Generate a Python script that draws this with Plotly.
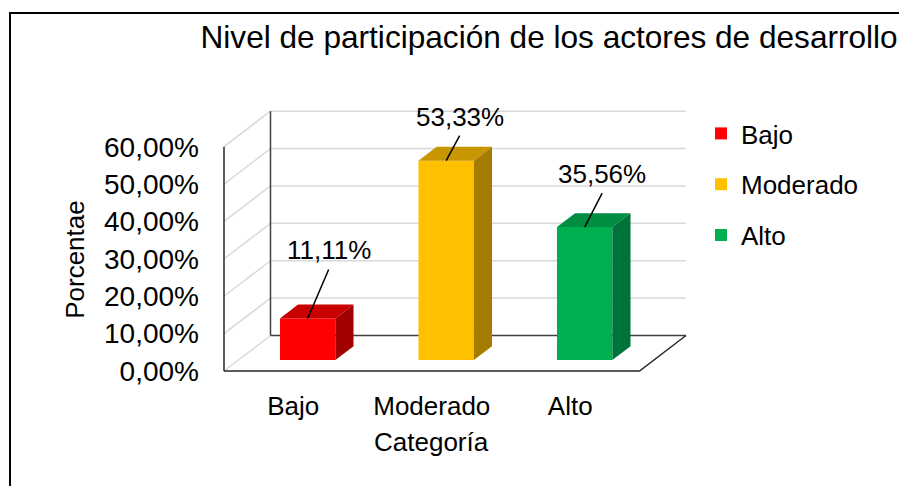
import plotly.graph_objects as go

# ---------------- data ----------------
CATEGORIES = ["Bajo", "Moderado", "Alto"]
VALUES = [11.11, 53.33, 35.56]
COLORS = ["#ff0000", "#ffc000", "#00b050"]
TOP_COLORS = ["#c80000", "#c89600", "#008f42"]
SIDE_COLORS = ["#a00000", "#a67c00", "#00733a"]
Y_TICKS = [0, 10, 20, 30, 40, 50, 60]
Y_TICK_LABELS = ["0,00%", "10,00%", "20,00%", "30,00%", "40,00%", "50,00%", "60,00%"]
TITLE = "Nivel de participación de los actores de desarrollo"
Y_TITLE = "Porcentae"
X_TITLE = "Categoría"

# ---------------- layout geometry (reference-window pixels) ----------------
PAGE_OFF = 8                      # default page margin around the plot div
W, H = 907 - PAGE_OFF, 486 - PAGE_OFF


def P(v):
    """reference window pixel -> figure pixel"""
    return v - PAGE_OFF


FRONT_LEFT, FRONT_RIGHT = P(224.0), P(639.5)     # front floor edge
FRONT_ZERO, FRONT_TOP = P(371.0), P(146.7)       # y pixel of 0 and of max tick
PLOT_L, PLOT_R, PLOT_T, PLOT_B = P(214), P(705), P(95), P(380)
DEPTH_PX = (46.5, 35.5)                          # back wall offset
BAR_DEPTH = (0.31, 0.70)                         # bar front/back depth fraction
BAR_WIDTH = 0.4
LEADER_PX = [(21, 49), (13.5, 25), (17.5, 34)]
LABEL_GAP_PX = 19
FONT = "Liberation Sans, Arial, sans-serif"

n = len(CATEGORIES)
PXU = (FRONT_RIGHT - FRONT_LEFT) / n
PYU = (FRONT_ZERO - FRONT_TOP) / Y_TICKS[-1]
x_range = [-0.5 - (FRONT_LEFT - PLOT_L) / PXU, -0.5 + (PLOT_R - FRONT_LEFT) / PXU]
y_range = [-(PLOT_B - FRONT_ZERO) / PYU, (FRONT_ZERO - PLOT_T) / PYU]
DX, DY = DEPTH_PX[0] / PXU, DEPTH_PX[1] / PYU
bx0, by0 = BAR_DEPTH[0] * DX, BAR_DEPTH[0] * DY
bdx, bdy = (BAR_DEPTH[1] - BAR_DEPTH[0]) * DX, (BAR_DEPTH[1] - BAR_DEPTH[0]) * DY
x_left, x_right = -0.5, n - 0.5
pw, ph = PLOT_R - PLOT_L, PLOT_B - PLOT_T


def px_to_paper(px, py):
    return (P(px) - PLOT_L) / pw, (PLOT_B - P(py)) / ph


fig = go.Figure()
for i, (c, v) in enumerate(zip(CATEGORIES, VALUES)):
    fig.add_trace(go.Bar(
        x=[i], y=[v], base=[by0], name=c, legendgroup=c,
        width=[BAR_WIDTH], offset=[-BAR_WIDTH / 2 + bx0],
        marker=dict(color=COLORS[i], line=dict(width=0)),
        hoverinfo="skip",
    ))

shapes = []
GRID = dict(color="#d9d9d9", width=1.5)
DARK = dict(color="#262626", width=1.5)
BACK_DARK = dict(color="#404040", width=1.5)
# back wall and side wall gridlines
for t in Y_TICKS:
    if t != Y_TICKS[0]:
        shapes.append(dict(type="line", xref="x", yref="y", layer="below",
                           x0=x_left + DX, x1=x_right + DX, y0=t + DY, y1=t + DY, line=GRID))
    shapes.append(dict(type="line", xref="x", yref="y", layer="below",
                       x0=x_left, x1=x_left + DX, y0=t, y1=t + DY, line=GRID))
# floor back edge
shapes.append(dict(type="line", xref="x", yref="y", layer="below",
                   x0=x_left + DX, x1=x_right + DX, y0=Y_TICKS[0] + DY, y1=Y_TICKS[0] + DY, line=BACK_DARK))
# back wall left vertical edge
shapes.append(dict(type="line", xref="x", yref="y", layer="below",
                   x0=x_left + DX, x1=x_left + DX, y0=Y_TICKS[0] + DY, y1=Y_TICKS[-1] + DY, line=BACK_DARK))
# front vertical axis
shapes.append(dict(type="line", xref="x", yref="y", layer="below",
                   x0=x_left, x1=x_left, y0=Y_TICKS[0], y1=Y_TICKS[-1], line=DARK))
# floor front and right edges
shapes.append(dict(type="path", xref="x", yref="y", layer="below",
                   path=f"M{x_left},{Y_TICKS[0]} L{x_right},{Y_TICKS[0]} L{x_right + DX},{Y_TICKS[0] + DY}",
                   line=DARK))

# bar top and side faces
for i, v in enumerate(VALUES):
    xl = i - BAR_WIDTH / 2 + bx0
    xr = i + BAR_WIDTH / 2 + bx0
    yb, yt = by0, by0 + v
    shapes.append(dict(type="path", xref="x", yref="y", layer="above", line=dict(width=0),
                       fillcolor=TOP_COLORS[i],
                       path=f"M{xl},{yt} L{xr},{yt} L{xr + bdx},{yt + bdy} L{xl + bdx},{yt + bdy} Z"))
    shapes.append(dict(type="path", xref="x", yref="y", layer="above", line=dict(width=0),
                       fillcolor=SIDE_COLORS[i],
                       path=f"M{xr},{yb} L{xr},{yt} L{xr + bdx},{yt + bdy} L{xr + bdx},{yb + bdy} Z"))

# leader lines and data labels
annotations = []
for i, v in enumerate(VALUES):
    xs, ys = i + bx0, by0 + v
    lx, ly = LEADER_PX[i]
    xe, ye = xs + lx / PXU, ys + ly / PYU
    shapes.append(dict(type="line", xref="x", yref="y", layer="above",
                       x0=xs, y0=ys, x1=xe, y1=ye, line=dict(color="#000000", width=1.5)))
    annotations.append(dict(x=xe, y=ye + LABEL_GAP_PX / PYU, xref="x", yref="y",
                            text=f"{v:.2f}".replace(".", ",") + "%", showarrow=False,
                            xanchor="center", yanchor="middle",
                            font=dict(family=FONT, size=26, color="#000000")))

# chart border (left and top edges visible)
bx_l, by_t = px_to_paper(10, 13)
bx_r, by_b = px_to_paper(907 + 20, 486 + 20)
shapes.append(dict(type="path", xref="paper", yref="paper", layer="above",
                   path=f"M{bx_l},{by_b} L{bx_l},{by_t} L{bx_r},{by_t}",
                   line=dict(color="#000000", width=2)))

# axis titles
ax_x, ax_y = px_to_paper(75.5, 259.3)
annotations.append(dict(x=ax_x, y=ax_y, xref="paper", yref="paper", text=Y_TITLE,
                        textangle=-90, showarrow=False, xanchor="center", yanchor="middle",
                        font=dict(family=FONT, size=26, color="#000000")))
cx, cy = px_to_paper(431.7, 441.5)
annotations.append(dict(x=cx, y=cy, xref="paper", yref="paper", text=X_TITLE,
                        showarrow=False, xanchor="center", yanchor="middle",
                        font=dict(family=FONT, size=26, color="#000000")))

fig.update_layout(
    width=W, height=H,
    margin=dict(l=PLOT_L, r=W - PLOT_R, t=PLOT_T, b=H - PLOT_B, autoexpand=False),
    paper_bgcolor="#ffffff", plot_bgcolor="#ffffff",
    barmode="overlay",
    title=dict(text=TITLE, x=P(200.5) / W, xanchor="left", xref="container",
               y=1 - P(36.5) / H, yanchor="middle", yref="container",
               font=dict(family=FONT, size=31.6, color="#000000")),
    xaxis=dict(range=x_range, tickmode="array", tickvals=list(range(n)), ticktext=CATEGORIES,
               showgrid=False, zeroline=False, showline=False, ticks="",
               ticklabelstandoff=8, tickfont=dict(family=FONT, size=26, color="#000000")),
    yaxis=dict(range=y_range, tickmode="array", tickvals=Y_TICKS, ticktext=Y_TICK_LABELS,
               showgrid=False, zeroline=False, showline=False, ticks="",
               ticklabelstandoff=14, tickfont=dict(family=FONT, size=28, color="#000000")),
    legend=dict(x=P(701) / W, xref="container", xanchor="left", y=1 - P(110) / H, yref="container",
                yanchor="top", tracegroupgap=14, bgcolor="rgba(0,0,0,0)",
                font=dict(family=FONT, size=26, color="#000000")),
    shapes=shapes, annotations=annotations,
    showlegend=True,
)

fig.write_html("out.html")
